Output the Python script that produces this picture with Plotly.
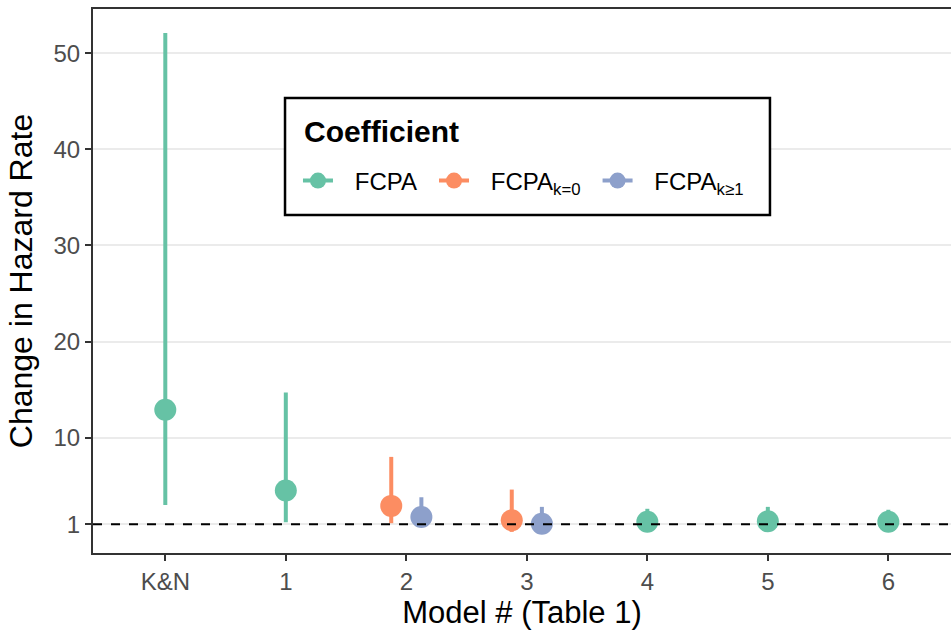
import plotly.graph_objects as go

# ---- data ----
models = ["K&N", "1", "2", "3", "4", "5", "6"]

fcpa_models = ["K&N", "1", "4", "5", "6"]
fcpa_est = [12.9, 4.5, 1.25, 1.3, 1.25]
fcpa_lo = [3.0, 1.2, 0.3, 0.3, 0.3]
fcpa_hi = [52.1, 14.7, 2.6, 2.8, 2.5]

k0_models = ["2", "3"]
k0_est = [2.9, 1.4]
k0_lo = [1.1, 0.2]
k0_hi = [8.0, 4.6]

k1_models = ["2", "3"]
k1_est = [1.75, 1.05]
k1_lo = [0.7, 0.5]
k1_hi = [3.8, 2.8]

y_ticks = [1, 10, 20, 30, 40, 50]
legend_title = "Coefficient"

series = [
    ("FCPA", fcpa_models, fcpa_est, fcpa_lo, fcpa_hi, "#66C2A5", 0.0),
    ("FCPA<sub>k=0</sub>", k0_models, k0_est, k0_lo, k0_hi, "#FC8D62", -0.125),
    ("FCPA<sub>k≥1</sub>", k1_models, k1_est, k1_lo, k1_hi, "#8DA0CB", 0.125),
]

fig = go.Figure()
for name, ms, est, lo, hi, col, off in series:
    xs = [models.index(m) + off for m in ms]
    fig.add_trace(go.Scatter(
        x=xs, y=est, mode="markers", showlegend=False,
        marker=dict(color=col, size=22),
        error_y=dict(type="data", symmetric=False,
                     array=[h - e for h, e in zip(hi, est)],
                     arrayminus=[e - l for e, l in zip(est, lo)],
                     color=col, thickness=4, width=0),
    ))
    # legend entry (point with line through it)
    fig.add_trace(go.Scatter(
        x=[None], y=[None], mode="lines+markers",
        name="\u2002\u2009" + name + "\u2002",
        marker=dict(color=col, size=22), line=dict(color=col, width=4),
    ))

fig.add_hline(y=1, line=dict(color="black", width=2, dash="dash"))

# legend frame + title
fig.add_shape(type="rect", xref="paper", yref="paper",
              x0=0.2238, x1=0.789, y0=0.6213, y1=0.8364,
              line=dict(color="black", width=2.5), fillcolor="white",
              layer="above")
fig.add_annotation(text="<b>" + legend_title + "</b>", xref="paper", yref="paper",
                   x=0.2436, y=0.7757, xanchor="left", yanchor="middle",
                   showarrow=False, font=dict(size=30, color="black"))

fig.update_layout(
    width=951, height=633,
    margin=dict(l=93, r=0, t=9, b=80, autoexpand=False),
    paper_bgcolor="white", plot_bgcolor="white",
    font=dict(family="Liberation Sans, Arial, sans-serif", color="black"),
    showlegend=True,
    legend=dict(
        x=0.2389, y=0.6838, xanchor="left", yanchor="middle",
        orientation="h",
        borderwidth=0, bgcolor="rgba(0,0,0,0)",
        font=dict(size=24),
        itemwidth=30,
    ),
)

fig.update_xaxes(
    range=[-0.6, 6.52],
    tickmode="array", tickvals=list(range(len(models))), ticktext=models,
    showgrid=False, zeroline=False,
    showline=True, linecolor="#333333", linewidth=2, mirror=True,
    ticks="outside", ticklen=6, tickwidth=2, tickcolor="#333333",
    tickfont=dict(size=24, color="#4D4D4D"),
    title=dict(text="Model # (Table 1)", font=dict(size=31), standoff=4),
    automargin=False,
)
fig.update_yaxes(
    range=[-2.0, 54.6],
    tickmode="array", tickvals=y_ticks,
    showgrid=True, gridcolor="#EBEBEB", gridwidth=2, zeroline=False,
    showline=True, linecolor="#333333", linewidth=2,
    ticks="outside", ticklen=6, tickwidth=2, tickcolor="#333333",
    tickfont=dict(size=24, color="#4D4D4D"),
    title=dict(text="Change in Hazard Rate", font=dict(size=32), standoff=11),
    automargin=False,
)

fig.write_html(
    "out.html",
    config={"displayModeBar": False},
    post_script="document.body.style.margin='0';document.body.style.overflow='hidden';",
)
